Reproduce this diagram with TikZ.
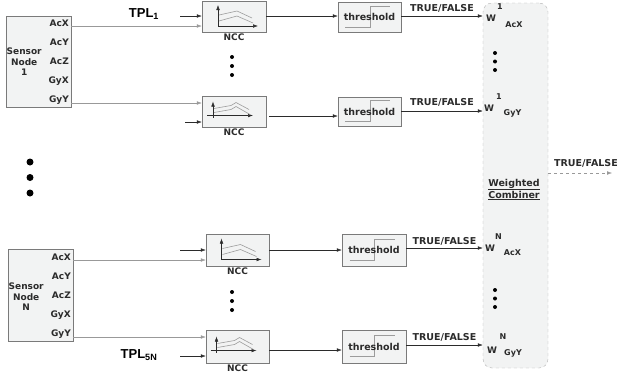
\documentclass[tikz,border=0pt]{standalone}
\usepackage{fontspec}
\setsansfont{DejaVu Sans}
\newfontfamily\tplfont{Liberation Sans}
\usetikzlibrary{arrows.meta,positioning,calc}
\definecolor{boxfill}{HTML}{F2F3F3}
\definecolor{boxline}{HTML}{7A7A7A}
\definecolor{iconline}{HTML}{9C9C9C}
\definecolor{inkdark}{HTML}{2B2B2B}
\tikzset{
  sensorbox/.style={draw=boxline, fill=boxfill, minimum width=65pt, minimum height=91pt, inner sep=0pt},
  blockbox/.style={draw=boxline, fill=boxfill, minimum width=64pt, minimum height=31pt, inner sep=0pt},
  lbl/.style={font=\sffamily\bfseries\fontsize{9}{10.5}\selectfont, text=inkdark, inner sep=0pt},
  biglbl/.style={font=\sffamily\bfseries\fontsize{9.5}{12}\selectfont, text=inkdark, inner sep=0pt},
  smalllbl/.style={font=\sffamily\bfseries\fontsize{8}{9}\selectfont, text=inkdark, inner sep=0pt},
  tpl/.style={font=\tplfont\bfseries\fontsize{13}{15}\selectfont, inner sep=0pt},
  feed/.style={draw=gray!80, ->},
  link/.style={draw=inkdark, ->},
  vdot/.style={fill=black, circle, inner sep=0pt, minimum size=4pt},
  bigdot/.style={fill=black, circle, inner sep=0pt, minimum size=7pt},
  nccicon/.pic={
    \draw[->, inkdark, line width=0.5pt] (-16,9.5) -- (-16,-11.5);
    \draw[->, inkdark, line width=0.5pt] (-16,9.5) -- (24,9.5);
    \draw[iconline, line width=0.6pt] (-15,-1.5) -- (3,-5.5) -- (18,1.5);
    \draw[iconline, line width=0.6pt] (-15,4.5) -- (3,-0.5) -- (19,6.5);
  },
  nccicontwo/.pic={
    \draw[->, inkdark, line width=0.5pt] (-21,6) -- (-21,-10);
    \draw[->, inkdark, line width=0.5pt] (-27,4) -- (19,4);
    \draw[iconline, line width=0.6pt] (-20,-3) -- (-3,-6) -- (2,-9) -- (15,-2);
    \draw[iconline, line width=0.6pt] (-20,1) -- (-3,-2) -- (2,-5) -- (16,3);
  },
  stepicon/.pic={
    \draw[iconline, line width=0.6pt] (-24.5,10) -- (0.5,10) -- (0.5,-11) -- (20.5,-11);
  }
}
\begin{document}
\begin{tikzpicture}[x=1pt, y=-1pt, >={Latex[length=5pt,width=3.6pt]}]
\useasboundingbox (0,0) rectangle (621,375);

% combiner in the back
\node[draw=gray!60, dashed, fill=boxfill, rounded corners=9pt, minimum width=65pt, minimum height=365pt, inner sep=0pt] (comb) at (515.5,185.5) {};

% sensor nodes
\node[sensorbox] (sn1) at (38.5,61.5) {};
\node[lbl, align=center, anchor=west] (sn1name) at (6.5,62) {Sensor\\Node\\1};
\node[lbl, anchor=east] (s1acx) at (69,23) {AcX};
\node[lbl, anchor=east] (s1acy) at (69,42) {AcY};
\node[lbl, anchor=east] (s1acz) at (69,61) {AcZ};
\node[lbl, anchor=east] (s1gyx) at (69,81) {GyX};
\node[lbl, anchor=east] (s1gyy) at (69,100) {GyY};

\node[sensorbox, minimum height=92pt] (snN) at (40.5,295) {};
\node[lbl, align=center, anchor=west] (snNname) at (8.5,297) {Sensor\\Node\\N};
\node[lbl, anchor=east] (sNacx) at (71,257) {AcX};
\node[lbl, anchor=east] (sNacy) at (71,276) {AcY};
\node[lbl, anchor=east] (sNacz) at (71,295) {AcZ};
\node[lbl, anchor=east] (sNgyx) at (71,315) {GyX};
\node[lbl, anchor=east] (sNgyy) at (71,334) {GyY};

\node[bigdot] (d1) at (30,162) {};
\node[bigdot] (d2) at (30,177.5) {};
\node[bigdot] (d3) at (30,193) {};

% templates
\node[tpl] (tpl1) at (144,14) {TPL\textsubscript{1}};
\node[tpl] (tplN) at (139,355) {TPL\textsubscript{5N}};

% NCC blocks
\node[blockbox] (ncc1) at (234,16.5) {};
\pic at (ncc1.center) {nccicon};
\node[lbl, below=1pt of ncc1] (ncc1lbl) {NCC};
\node[blockbox, minimum height=31pt] (ncc2) at (234,111.5) {};
\pic at (ncc2.center) {nccicontwo};
\node[lbl, below=1pt of ncc2] (ncc2lbl) {NCC};
\node[blockbox, minimum width=63pt, minimum height=32pt] (ncc3) at (237.5,250) {};
\pic at (ncc3.center) {nccicon};
\node[lbl, below=1pt of ncc3] (ncc3lbl) {NCC};
\node[blockbox, minimum width=63pt, minimum height=33pt] (ncc4) at (237.5,346.5) {};
\pic at (ncc4.center) {nccicontwo};
\node[lbl, below=1pt of ncc4] (ncc4lbl) {NCC};

\node[vdot] at (232,57) {};
\node[vdot] at (232,66) {};
\node[vdot] at (232,75) {};
\node[vdot] at (232,292) {};
\node[vdot] at (232,301) {};
\node[vdot] at (232,310) {};

% threshold blocks
\node[blockbox, minimum width=63pt, minimum height=30pt] (thr1) at (369.5,17) {};
\pic at (thr1.center) {stepicon};
\node[biglbl] at (thr1.center) {threshold};
\node[blockbox, minimum width=63pt, minimum height=29pt] (thr2) at (369.5,111.5) {};
\pic at (thr2.center) {stepicon};
\node[biglbl] at (thr2.center) {threshold};
\node[blockbox, minimum height=32pt] (thr3) at (374,250) {};
\pic at (thr3.center) {stepicon};
\node[biglbl] at (thr3.center) {threshold};
\node[blockbox, minimum height=33pt] (thr4) at (374,346.5) {};
\pic at (thr4.center) {stepicon};
\node[biglbl] at (thr4.center) {threshold};

% free ends of the template inputs
\coordinate (in1) at (180,16);
\coordinate (in2) at (185,122);
\coordinate (in3) at (180,250);
\coordinate (in4) at (180,356);

% sensors -> NCC
\draw[feed] (sn1.east |- 0,26) -- (ncc1.west |- 0,26);
\draw[link] (in1) -- (ncc1.west |- in1);
\draw[feed] (sn1.east |- 0,103) -- (ncc2.west |- 0,103);
\draw[link] (in2) -- (ncc2.west |- in2);
\draw[link] (in3) -- (ncc3.west |- in3);
\draw[feed] (snN.east |- 0,260) -- (ncc3.west |- 0,260);
\draw[feed] (snN.east |- 0,337) -- (ncc4.west |- 0,337);
\draw[link] (in4) -- (ncc4.west |- in4);

% NCC -> threshold
\draw[link] (ncc1.east |- 0,16) -- (thr1.west |- 0,16);
\draw[link] ([xshift=3pt]ncc2.east |- 0,116) -- (thr2.west |- 0,116);
\draw[link] (ncc3.east |- 0,250) -- (thr3.west |- 0,250);
\draw[link] (ncc4.east |- 0,350) -- (thr4.west |- 0,350);

% threshold -> combiner
\draw[link] (thr1.east |- 0,16) -- (comb.west |- 0,16) node[biglbl, midway, above=3pt] {TRUE/FALSE};
\draw[link] (thr2.east |- 0,111) -- (comb.west |- 0,111) node[biglbl, midway, above=4pt] {TRUE/FALSE};
\draw[link] (thr3.east |- 0,248) -- (comb.west |- 0,248) node[biglbl, midway, above=2pt] {TRUE/FALSE};
\draw[link] (thr4.east |- 0,345) -- (comb.west |- 0,345) node[biglbl, midway, above=3pt] {TRUE/FALSE};

% weights
\node[lbl, anchor=west] (w1a) at (486,18) {W};
\node[smalllbl] at (500,7) {1};
\node[smalllbl] at (514,24.5) {AcX};
\node[lbl, anchor=west] (w1g) at (484,108) {W};
\node[smalllbl] at (499,97) {1};
\node[smalllbl] at (512.5,113) {GyY};
\node[lbl, anchor=west] (wNa) at (485,248) {W};
\node[smalllbl] at (498.5,237) {N};
\node[smalllbl] at (512.5,253) {AcX};
\node[lbl, anchor=west] (wNg) at (487,350) {W};
\node[smalllbl] at (503,337) {N};
\node[smalllbl] at (513,353) {GyY};

\node[vdot] at (495,53) {};
\node[vdot] at (495,61.5) {};
\node[vdot] at (495,70) {};
\node[vdot] at (495,290) {};
\node[vdot] at (495,298.5) {};
\node[vdot] at (495,307) {};

\node[biglbl, align=center] (combname) at (514,189.5) {\underline{Weighted}\\\underline{Combiner}};

% output
\coordinate (out) at (612,173);
\draw[->, dashed, gray!80] (comb.east |- out) -- (out);
\node[biglbl] (outlbl) at (586,163) {TRUE/FALSE};
\end{tikzpicture}
\end{document}
